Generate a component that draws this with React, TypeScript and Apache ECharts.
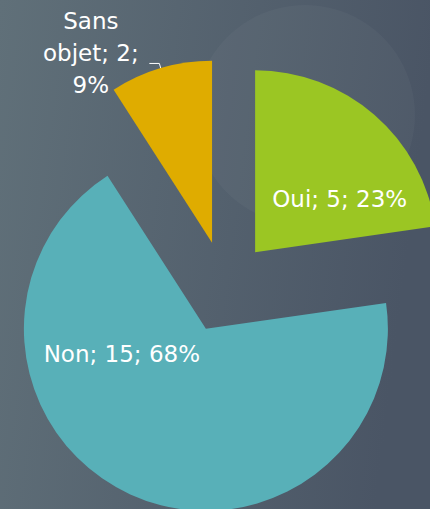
import React, { useEffect, useRef } from 'react';
import * as echarts from 'echarts';

const categories = ['Oui', 'Non', 'Sans objet'];
const values = [5, 15, 2];
const colors = ['#9BC623', '#58B0B8', '#DFAC00'];

const FONT = '"DejaVu Sans", sans-serif';

export default function App() {
  const ref = useRef<HTMLDivElement>(null);
  useEffect(() => {
    document.body.style.margin = '0';
    const chart = echarts.init(ref.current!, undefined, { renderer: 'svg' });
    const labelShift: [number, number][] = [[23, 18], [-45, -60], [0, 0]];
    chart.setOption({
      animation: false,
      backgroundColor: new echarts.graphic.LinearGradient(0, 0, 1, 0.15, [
        { offset: 0, color: '#607079' },
        { offset: 1, color: '#4a5565' },
      ]),
      graphic: [
        {
          type: 'circle',
          z: -10,
          silent: true,
          shape: { cx: 305, cy: 115, r: 110 },
          style: { fill: 'rgba(255,255,255,0.03)' },
        },
      ],
      series: [
        {
          type: 'pie',
          center: [225, 287],
          radius: 182,
          startAngle: 90,
          clockwise: true,
          selectedMode: 'multiple',
          selectedOffset: 46,
          avoidLabelOverlap: false,
          percentPrecision: 0,
          emphasis: { disabled: true },
          labelLayout: (p: any) => ({ dx: labelShift[p.dataIndex][0], dy: labelShift[p.dataIndex][1] }),
          data: categories.map((c, i) => ({
            name: c,
            value: values[i],
            selected: true,
            itemStyle: { color: colors[i] },
            label:
              i === 2
                ? {
                    show: true,
                    position: 'outside',
                    distanceToLabelLine: 2,
                    padding: [0, 0, 20, 0],
                    formatter: (p: any) =>
                      `{c|${p.name.split(' ')[0]}}\n{c|${p.name.split(' ')[1]}; ${p.value};}\n{c|${p.percent}%}`,
                    rich: {
                      c: {
                        width: 113,
                        align: 'center',
                        color: '#ffffff',
                        fontSize: 23,
                        fontFamily: FONT,
                        lineHeight: 32,
                      },
                    },
                  }
                : {
                    show: true,
                    position: 'inside',
                    color: '#ffffff',
                    fontSize: 23,
                    fontFamily: FONT,
                    formatter: (p: any) => `${p.name}; ${p.value}; ${p.percent}%`,
                  },
            labelLine:
              i === 2
                ? { show: true, length: 5, length2: 10, lineStyle: { color: '#ffffff', width: 1 } }
                : { show: false },
          })),
        },
      ],
    });
    return () => chart.dispose();
  }, []);
  return <div ref={ref} style={{ width: 430, height: 509 }} />;
}
